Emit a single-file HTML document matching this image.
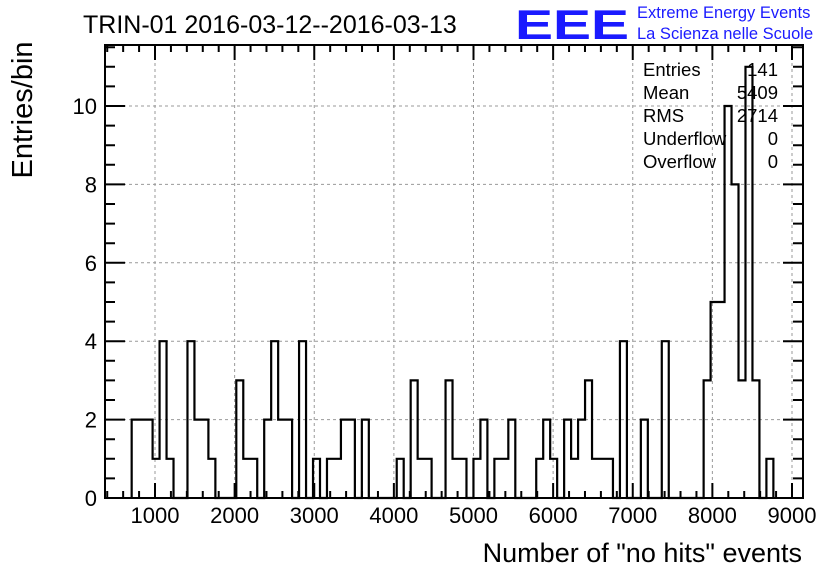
<!DOCTYPE html>
<html><head><meta charset="utf-8">
<style>
html,body{margin:0;padding:0;background:#fff;}
svg{display:block;font-family:"Liberation Sans",Arial,sans-serif;}
</style></head>
<body>
<svg id="chart" width="836" height="572" viewBox="0 0 836 572">
<rect x="0" y="0" width="836" height="572" fill="#fff"/>
<g id="grid"></g>
<g id="bars"></g>
<rect x="105" y="45" width="698" height="453" fill="none" stroke="#000" stroke-width="2"/>
<g id="ticks"></g>
<text x="83" y="33" font-size="25">TRIN-01 2016-03-12--2016-03-13</text>
<text x="515" y="39" font-size="42" font-weight="bold" fill="#1a1aff" textLength="114" lengthAdjust="spacingAndGlyphs">EEE</text>
<text x="637" y="18" font-size="16.5" fill="#1a1aff">Extreme Energy Events</text>
<text x="637" y="39" font-size="16.5" fill="#1a1aff">La Scienza nelle Scuole</text>
<text transform="translate(32,110) rotate(-90)" text-anchor="middle" font-size="29">Entries/bin</text>
<text x="802" y="562" text-anchor="end" font-size="27">Number of "no hits" events</text>
<g font-size="18.5">
<text x="643" y="76">Entries</text><text x="778" y="76" text-anchor="end">141</text>
<text x="643" y="99">Mean</text><text x="778" y="99" text-anchor="end">5409</text>
<text x="643" y="122">RMS</text><text x="778" y="122" text-anchor="end">2714</text>
<text x="643" y="145">Underflow</text><text x="778" y="145" text-anchor="end">0</text>
<text x="643" y="168">Overflow</text><text x="778" y="168" text-anchor="end">0</text>
</g>
</svg>
<script>
const binStart = 707;
const binWidth = 87.6;
const counts = [2,2,2,1,4,1,0,0,4,2,2,1,0,0,0,3,1,1,0,2,4,2,2,0,4,0,1,0,1,1,
2,2,0,2,0,0,0,0,1,0,3,1,1,0,0,3,1,1,0,1,2,0,1,1,2,0,0,0,1,2,
1,0,2,1,2,3,1,1,1,0,4,0,0,2,0,0,4,0,0,0,0,0,3,5,5,10,8,3,11,3,0,1];
const xTickLabels = [1000,2000,3000,4000,5000,6000,7000,8000,9000];
const yTickLabels = [0,2,4,6,8,10];

const X0=105,X1=803,Y0=498,Y1=45;
function xs(v){return 155+(v-1000)*0.079625;}
function ys(v){return 498-v*39.2;}
const NS="http://www.w3.org/2000/svg";
function mk(tag,attrs,parent){const e=document.createElementNS(NS,tag);for(const k in attrs)e.setAttribute(k,attrs[k]);parent.appendChild(e);return e;}
const grid=document.getElementById('grid'),ticks=document.getElementById('ticks'),bars=document.getElementById('bars'),svg=document.getElementById('chart');

xTickLabels.forEach(v=>{
  const g=mk('line',{x1:xs(v),x2:xs(v),y1:Y1,y2:Y0,stroke:'#999','stroke-dasharray':'3,3','stroke-width':1},grid);
  
  
  const t=mk('text',{x:xs(v),y:523,'text-anchor':'middle','font-size':22},svg);
  t.textContent=v;
  
  
});
yTickLabels.forEach(v=>{
  if(v>0){
    const g=mk('line',{x1:X0,x2:X1,y1:ys(v),y2:ys(v),stroke:'#999','stroke-dasharray':'3,3','stroke-width':1},grid);
    
    
  }
  const t=mk('text',{x:97,y:ys(v)+8,'text-anchor':'end','font-size':22},svg);
  t.textContent=v;
  
  
});
let d='';
for(let v=400;v<=9100;v+=200){const x=xs(v);if(x<X0||x>X1)continue;const L=(v%1000===0)?15:7;d+=`M${x},${Y0}v${-L}M${x},${Y1}v${L}`;}
for(let v=0;v<=11.5;v+=0.5){const y=ys(v);const L=(v%2===0)?20:10;d+=`M${X0},${y}h${L}M${X1},${y}h${-L}`;}
const tk=mk('path',{d:d,stroke:'#000','stroke-width':2,fill:'none'},ticks);


let p=`M${xs(binStart)},${ys(0)}`;
counts.forEach((c,i)=>{const a=xs(binStart+i*binWidth),b=xs(binStart+(i+1)*binWidth);p+=`L${a},${ys(c)}L${b},${ys(c)}`;});
p+=`L${xs(binStart+counts.length*binWidth)},${ys(0)}`;
const h=mk('path',{d:p,stroke:'#000','stroke-width':2.2,fill:'none'},bars);


</script>
</body></html>
